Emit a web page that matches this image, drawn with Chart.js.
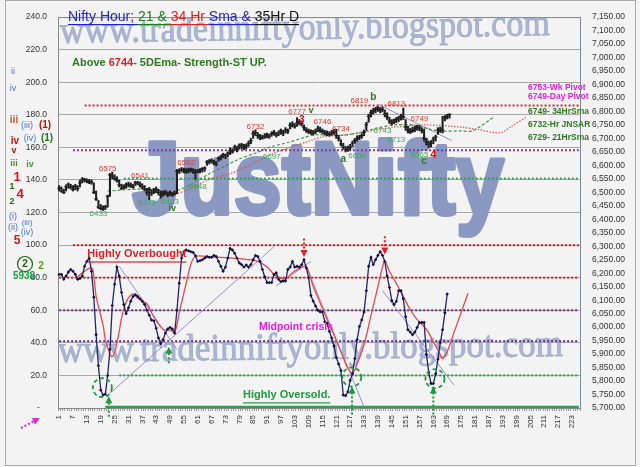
<!DOCTYPE html>
<html>
<head>
<meta charset="utf-8">
<title>Nifty Hour</title>
<script src="https://cdn.jsdelivr.net/npm/chart.js@4.4.1/dist/chart.umd.min.js"></script>
<style>
  html, body { margin: 0; padding: 0; background: #f3f3f3; }
  #wrap { width: 640px; height: 467px; }
</style>
</head>
<body>
<div id="wrap"><canvas id="chart" width="640" height="467"></canvas></div>
<script>
// ---- hourly bars ----
const candleLows = [
  6505,6500,6495,6505,6515,6512,6505,6510,6505,6520,
  6535,6538,6535,6532,6530,6495,6470,6440,6435,6433,
  6436,6445,6485,6550,6545,6538,6520,6510,6512,6515,
  6520,6518,6515,6525,6528,6520,6512,6505,6490,6473,
  6488,6495,6498,6490,6478,6485,6490,6483,6488,6485,
  6490,6495,6570,6575,6572,6570,6572,6575,6570,6548,
  6572,6572,6575,6578,6600,6605,6608,6602,6598,6615,
  6620,6628,6625,6632,6640,6645,6655,6650,6660,6662,
  6658,6662,6670,6680,6700,6710,6700,6695,6697,6700,
  6702,6700,6708,6712,6705,6710,6715,6710,6720,6718,
  6735,6742,6738,6745,6750,6745,6730,6722,6718,6715,
  6712,6718,6725,6722,6718,6712,6710,6708,6712,6715,
  6700,6690,6672,6660,6650,6652,6658,6670,6682,6690,
  6695,6700,6710,6730,6760,6780,6790,6795,6800,6795,
  6798,6780,6770,6755,6750,6755,6758,6762,6768,6770,
  6730,6720,6718,6722,6725,6730,6728,6720,6690,6675,
  6665,6668,6680,6690,6715,6722,6720,6765,6772,6775
];
const candleHighs = [
  6525,6520,6512,6528,6535,6530,6525,6530,6525,6545,
  6555,6552,6550,6548,6546,6535,6505,6470,6455,6450,
  6452,6490,6570,6575,6565,6558,6545,6530,6528,6535,
  6538,6535,6530,6541,6541,6538,6532,6525,6515,6518,
  6510,6515,6520,6512,6505,6505,6508,6502,6505,6500,
  6505,6585,6588,6592,6590,6588,6590,6590,6588,6585,
  6585,6588,6592,6595,6618,6622,6625,6620,6615,6632,
  6638,6645,6642,6650,6665,6662,6675,6670,6680,6682,
  6678,6680,6690,6700,6728,6732,6722,6715,6712,6718,
  6720,6716,6725,6730,6722,6728,6735,6730,6740,6735,
  6758,6762,6755,6777,6770,6765,6750,6740,6735,6732,
  6730,6735,6746,6742,6735,6730,6728,6725,6730,6734,
  6734,6712,6695,6682,6670,6672,6678,6690,6700,6710,
  6712,6718,6730,6760,6790,6805,6812,6815,6819,6815,
  6816,6805,6795,6778,6770,6772,6778,6782,6790,6813,
  6770,6745,6738,6742,6745,6749,6748,6740,6735,6700,
  6690,6692,6705,6712,6740,6742,6782,6785,6790,6792
];
const candleCloses = [
  6515,6505,6500,6520,6530,6520,6510,6522,6515,6535,
  6548,6545,6542,6540,6538,6500,6475,6445,6440,6438,
  6445,6485,6565,6560,6552,6545,6528,6515,6520,6528,
  6530,6525,6520,6535,6535,6528,6520,6512,6500,6510,
  6498,6505,6510,6500,6490,6495,6500,6492,6498,6490,
  6495,6578,6580,6585,6582,6578,6582,6585,6580,6575,
  6578,6582,6588,6590,6612,6615,6618,6610,6605,6625,
  6630,6640,6635,6645,6655,6650,6668,6660,6672,6675,
  6668,6672,6682,6692,6718,6722,6710,6705,6702,6708,
  6712,6708,6718,6722,6712,6720,6728,6720,6732,6728,
  6748,6752,6745,6758,6762,6755,6740,6730,6725,6722,
  6720,6725,6735,6730,6725,6720,6718,6715,6720,6725,
  6710,6700,6680,6668,6658,6660,6668,6682,6692,6700,
  6705,6710,6722,6750,6782,6795,6802,6808,6810,6805,
  6808,6790,6780,6765,6758,6765,6770,6775,6782,6780,
  6742,6730,6725,6730,6735,6740,6738,6730,6700,6685,
  6678,6682,6695,6705,6730,6735,6730,6778,6782,6788
];

// ---- oscillator (left axis, 0-100) ----
const oscillator = [
  82,82,79,81,83.5,85,84,82,79,79.5,
  81,87,90,92,84,68,45,26,11,8,
  8.5,20,36,63,76,86.5,81,71,63.5,58,
  61.5,65.5,68.5,69.5,68.5,67,65.5,63.5,60,57,
  54,53.5,49,43,39.5,42,46,48.5,49.5,48.5,
  46,60,76.6,92,96,97,96.5,96,95.5,93.5,
  90,90.5,91,92,93,92.5,92.5,93.7,93,90,
  87,84,86.5,92,98,97,95,92,89,88,
  86.5,87.8,86.5,88,91,93.7,93,90,85,80.6,
  77,77,77,82,83,79,77.6,78,78,85,
  86.5,90,86.5,87,86.5,88,91,86,80,69,
  65.6,62.7,60,59,59,53,52,47,43,38,
  31,27,23,8,7.5,10,17,21,30.4,42,
  50,54,59,72,87,92.5,88,91,93.7,96,
  93.7,90,81,74,66,63.5,65.5,72,72,67,
  56,48,46.6,45,46.6,49.5,52.5,52.5,52.5,33,
  22,15,15,21,30,40,48,58.5,70
];
const oscAvgCats = [9,12,15,16,17,20,21,23,24,25,26,27,28,30,33,35,37,39,41,43,
  46,49,51,53,56,58,60,65,71,76,82,87,91,95,99,102,106,108,111,114,
  117,120,123,126,128,130,133,136,139,141,142,144,147,150,153,156,160,163,166,167,
  169,172,175,178];
const oscAvg = [80.6,84,86,81,68.6,51,42,33,31.5,34,40,47,55,65,70,67.5,65.6,64,58.5,53.7,
  48.4,47.8,46.6,58.5,76.6,88,93,93,92.5,92,91.3,90,86.5,81,79.4,83,86.5,87,74.6,64.5,
  54.3,44.8,34.6,24.5,21.5,27,39,56.7,74.6,86.5,90,84,76.4,68.6,60.3,54.3,48.4,40.6,32.8,30.4,
  34.6,46.6,58.5,70.4];

// ---- moving averages (right axis) ----
const sma21Cats = [22,40,49,58,66,72,78,87,92,100,107,111,117,123,131,139,146,154,165,175,180,189];
const sma21 = [6505,6513,6500,6529,6569,6594,6620,6649,6667,6685,6703,6713,6713,6711,6721,6739,6750,6750,6728,6728,6728,6778];
const sma34Cats = [40,49,58,66,75,84,92,101,110,115,124,131,146,160,175,183,192,197,203];
const sma34 = [6515,6490,6515,6548,6569,6602,6638,6667,6692,6706,6712,6721,6742,6750,6742,6732,6721,6746,6778];

// ---- horizontal levels and trend lines ----
const priceLevels = [6822, 6656, 6551];
const priceLevelFrom = [12, 7, 29];
const oscLevels = [100, 80, 60, 41, 20, 0.6];
const oscLevelFrom = [7, 1, 1, 1, 27, 21];
const oscTrends = [[23, 9, 94, 99], [27, 87, 52, 36], [95, 75, 110, 90], [108, 87, 133, 0.6], [141, 72, 172, 14]];
const priceTrends = [[128, 6659, 139, 6827], [139, 6827, 171, 6692]];

const labels = Array.from({ length: 226 }, (_, i) => String(i + 1));

const RED = '#e8352e', GRN = '#3aa85c', DKG = '#2d7a1c', BLUE = '#4a72c0', MAG = '#e020e0';
const SANS = '"Liberation Sans", Arial, sans-serif';

const pts = (cats, vals) => cats.map((c, i) => ({ x: String(c), y: vals[i] }));
const seg = (t) => [{ x: String(t[0]), y: t[1] }, { x: String(t[2]), y: t[3] }];

const datasets = [];
const priceLevelColors = ['#d02a2a', '#7a3aa8', '#2aa050'];
priceLevels.forEach((v, i) => datasets.push({
  type: 'line', data: [{ x: String(priceLevelFrom[i]), y: v }, { x: '226', y: v }], yAxisID: 'y2',
  borderColor: priceLevelColors[i], borderWidth: 2, borderDash: [2, 2], pointRadius: 0, order: 6
}));
const oscLevelColors = ['#c82828', '#c82828', '#6a2a90', '#6a2a90', '#2aa050', '#2aa050'];
oscLevels.forEach((v, i) => datasets.push({
  type: 'line', data: [{ x: String(oscLevelFrom[i]), y: v }, { x: '226', y: v }], yAxisID: 'y',
  borderColor: oscLevelColors[i], borderWidth: i === 5 ? 2.5 : 2, borderDash: i === 5 ? [] : [2, 2], pointRadius: 0, order: 6
}));
oscTrends.forEach(t => datasets.push({
  type: 'line', data: seg(t), yAxisID: 'y', borderColor: 'rgba(150,128,200,0.9)', borderWidth: 1, pointRadius: 0, order: 5
}));
priceTrends.forEach(t => datasets.push({
  type: 'line', data: seg(t), yAxisID: 'y2', borderColor: 'rgba(150,128,200,0.9)', borderWidth: 1, pointRadius: 0, order: 5
}));
datasets.push({
  type: 'line', data: pts(sma21Cats, sma21), yAxisID: 'y2', borderColor: '#3c9a3c', borderWidth: 1.2,
  borderDash: [3, 2], pointRadius: 0, tension: 0.3, order: 4
});
datasets.push({
  type: 'line', data: pts(sma34Cats, sma34), yAxisID: 'y2', borderColor: '#e0504a', borderWidth: 1.2,
  borderDash: [1.5, 1.5], pointRadius: 0, tension: 0.3, order: 4
});
datasets.push({
  type: 'line', data: pts(oscAvgCats, oscAvg), yAxisID: 'y', borderColor: '#e8484c', borderWidth: 1.3,
  pointRadius: 0, tension: 0.4, order: 3
});
datasets.push({
  type: 'line', data: oscillator, yAxisID: 'y', borderColor: '#23236e', borderWidth: 1.3,
  pointStyle: 'rectRot', pointRadius: 1.7, pointBackgroundColor: '#101040', pointBorderWidth: 0, order: 2
});
datasets.push({
  type: 'bar', data: candleLows.map((l, i) => [l, candleHighs[i]]), yAxisID: 'y2',
  backgroundColor: '#1e1e1e', barThickness: 1.4, order: 1
});
datasets.push({
  type: 'line', data: candleCloses, yAxisID: 'y2', showLine: false, pointStyle: 'line',
  pointRadius: 1.8, pointBorderWidth: 1.2, pointBorderColor: '#1e1e1e', order: 1
});

// text helpers
function stretchText(ctx, s, x, y, w, font, color, angle, thick) {
  ctx.save();
  ctx.font = font;
  const m = ctx.measureText(s).width;
  ctx.translate(x, y);
  ctx.rotate(angle);
  ctx.scale(w / m, 1);
  ctx.fillStyle = color;
  ctx.textAlign = 'left';
  ctx.textBaseline = 'alphabetic';
  ctx.fillText(s, 0, 0);
  if (thick) {
    ctx.strokeStyle = color;
    ctx.lineWidth = thick;
    ctx.lineJoin = 'round';
    ctx.strokeText(s, 0, 0);
  }
  ctx.restore();
}
function put(ctx, s, x, y, color, font, align) {
  ctx.font = font + ' ' + SANS;
  ctx.fillStyle = color;
  ctx.textAlign = align || 'center';
  ctx.textBaseline = 'middle';
  ctx.fillText(s, x, y);
}
function runs(ctx, parts, x, y, font, underline) {
  ctx.font = font + ' ' + SANS;
  ctx.textAlign = 'left';
  ctx.textBaseline = 'middle';
  parts.forEach(([s, c]) => {
    const w = ctx.measureText(s).width;
    ctx.fillStyle = c;
    ctx.fillText(s, x, y);
    if (underline) { ctx.fillRect(x, y + underline, w, 1.2); }
    x += w;
  });
}
function dotArrow(ctx, x1, y1, x2, y2, color) {
  ctx.save();
  ctx.strokeStyle = color; ctx.fillStyle = color; ctx.lineWidth = 2;
  ctx.setLineDash([2, 2]);
  ctx.beginPath(); ctx.moveTo(x1, y1); ctx.lineTo(x2, y2); ctx.stroke();
  ctx.setLineDash([]);
  const a = Math.atan2(y2 - y1, x2 - x1);
  ctx.beginPath();
  ctx.moveTo(x2 + 2 * Math.cos(a), y2 + 2 * Math.sin(a));
  ctx.lineTo(x2 - 5 * Math.cos(a) + 3.5 * Math.sin(a), y2 - 5 * Math.sin(a) - 3.5 * Math.cos(a));
  ctx.lineTo(x2 - 5 * Math.cos(a) - 3.5 * Math.sin(a), y2 - 5 * Math.sin(a) + 3.5 * Math.cos(a));
  ctx.closePath(); ctx.fill();
  ctx.restore();
}

const priceNotes = [
  ['6575', 22, 6587, RED], ['6541', 36, 6562, RED], ['6592', 56, 6609, RED], ['6732', 86, 6742, RED],
  ['6777', 104, 6797, RED], ['6746', 115, 6760, RED], ['6734', 123, 6735, RED], ['6819', 131, 6840, RED],
  ['6813', 147, 6829, RED], ['6749', 157, 6771, RED],
  ['6433', 18, 6421, GRN], ['6473', 39, 6461, GRN], ['6483', 49, 6465, GRN], ['6548', 61, 6519, GRN],
  ['6697', 93, 6631, GRN], ['6650', 130, 6634, GRN], ['6743', 141, 6728, GRN], ['6713', 147, 6695, GRN],
  ['6665', 157, 6641, GRN]
];
const waveNotes = [
  ['iv', 50, 6439, DKG, 'bold 9px'], ['v', 110, 6804, DKG, 'bold 9px'], ['a', 124, 6623, DKG, 'bold 10px'],
  ['b', 137, 6854, DKG, 'bold 10px'], ['c', 159, 6616, DKG, 'bold 10px'],
  ['3', 106, 6768, '#e01010', 'bold 10px'], ['4', 163, 6638, '#e01010', 'bold 11px']
];
const pivotNotes = [
  ['6753-Wk Pivot', 6890, MAG], ['6749-Day Pivot', 6854, MAG], ['6749- 34HrSma', 6800, DKG],
  ['6732-Hr JNSAR', 6750, DKG], ['6729- 21HrSma', 6703, DKG]
];
const sideMarks = [
  ['ii', 13, 206.6, BLUE, '9px'], ['iv', 13, 196.4, BLUE, '9px'],
  ['iii', 14, 176.7, '#e04a1a', 'bold 10px'], ['(iii)', 27, 173.7, BLUE, '9px'], ['(1)', 45, 173.7, '#c01010', 'bold 10px'],
  ['iv', 15, 164, '#c01010', 'bold 10px'], ['(iv)', 30, 165.4, BLUE, '9px'], ['(1)', 47, 165.9, '#1d7a10', 'bold 10px'],
  ['v', 14, 158.2, '#c01010', 'bold 9px'],
  ['iii', 14, 149.9, '#3d9a2a', 'bold 9px'], ['iv', 30, 149.3, '#3d9a2a', 'bold 9px'],
  ['1', 17, 141.5, '#e01010', 'bold 13px'],
  ['1', 12, 136, '#1d6a10', 'bold 9px'], ['4', 20, 131.3, '#e01010', 'bold 13px'],
  ['2', 12, 127, '#1d6a10', 'bold 9px'],
  ['(i)', 13, 117.6, BLUE, '9px'], ['(ii)', 13, 111, BLUE, '9px'], ['(iii)', 27, 113.5, BLUE, '8px'],
  ['(iv)', 27, 107.5, BLUE, '9px'],
  ['5', 17, 103, '#e01010', 'bold 12px'],
  ['2', 25, 88.4, '#1d6a10', 'bold 10px'], ['2', 41, 87.2, '#5a9a10', 'bold 10px'],
  ['5938', 24, 80.6, '#10a040', 'bold 10px']
];

const overlay = {
  id: 'overlay',
  beforeDraw(chart) {
    const { ctx, width, height } = chart;
    ctx.save();
    ctx.fillStyle = '#f3f3f3';
    ctx.fillRect(0, 0, width, height);
    ctx.strokeStyle = '#a8a8a8';
    ctx.lineWidth = 1;
    ctx.strokeRect(5.5, 0.5, width - 10, height - 2);
    ctx.restore();
  },
  beforeDatasetsDraw(chart) {
    const { ctx, chartArea: a } = chart;
    ctx.save();
    ctx.beginPath();
    ctx.rect(a.left, a.top, a.right - a.left, a.bottom - a.top);
    ctx.clip();
    const serif = '38px "Liberation Serif", "Times New Roman", serif';
    const wm = 'rgba(158,170,202,0.85)';
    stretchText(ctx, 'www.tradeinniftyonly.blogspot.com', a.left + 2, 43, 490, serif, wm, -0.016, 1);
    stretchText(ctx, 'JustNifty', a.left + 74, 214, 372, 'bold 104px ' + SANS, 'rgb(138,152,194)', 0, 4);
    stretchText(ctx, 'www.tradeinniftyonly.blogspot.com', a.left, 362, 505, serif, wm, -0.012, 1);
    ctx.restore();
  },
  afterDatasetsDraw(chart) {
    const { ctx, chartArea: a, scales } = chart;
    const X = c => scales.x.getPixelForValue(c - 1);
    const P = v => scales.y2.getPixelForValue(v);
    const O = v => scales.y.getPixelForValue(v);
    ctx.save();
    // plot frame
    ctx.strokeStyle = '#7d8aa6';
    ctx.lineWidth = 1;
    ctx.beginPath();
    ctx.moveTo(a.left, a.top + 0.5); ctx.lineTo(a.right + 0.5, a.top + 0.5); ctx.lineTo(a.right + 0.5, a.bottom);
    ctx.stroke();

    // title
    runs(ctx, [['Nifty Hour; ', '#1f1fcc'], ['21 & ', '#1e7b1e'], ['34 Hr ', '#e02020'], ['Sma & ', '#1f1fcc'], ['35Hr D', '#111']],
      a.left + 10, 17, '14px', 7);
    runs(ctx, [['Above ', DKG], ['6744', '#e02020'], ['- 5DEma- Strength-ST UP.', DKG]], a.left + 14, 63, 'bold 11px');

    // price labels
    priceNotes.forEach(([s, c, v, col]) => put(ctx, s, X(c), P(v), col, '8px'));
    waveNotes.forEach(([s, c, v, col, f]) => put(ctx, s, X(c), P(v), col, f));
    pivotNotes.forEach(([s, v, col]) => put(ctx, s, X(204), P(v), col, 'bold 8.5px', 'left'));

    // oscillator panel notes
    runs(ctx, [['Highly Overbought', '#e02020']], X(13.2), O(94.3), 'bold 11px', 7);
    runs(ctx, [['Midpoint crisis', MAG]], X(87.5), O(49.5), 'bold 10.5px');
    runs(ctx, [['Highly Oversold.', '#1e9a3a']], X(80.6), O(7.8), 'bold 11px', 7);

    // circles
    ctx.strokeStyle = '#1e9a3a';
    ctx.lineWidth = 1.8;
    ctx.setLineDash([4, 3]);
    [[19.7, 12.5], [127.7, 19], [163.7, 18]].forEach(([c, v]) => {
      ctx.beginPath(); ctx.arc(X(c), O(v), 9.5, 0, Math.PI * 2); ctx.stroke();
    });
    ctx.setLineDash([]);

    // arrows
    [[22.5, -5.4, 6], [48.5, 27.5, 36.4], [127.8, -4, 12], [163, -4, 12]].forEach(([c, v1, v2]) =>
      dotArrow(ctx, X(c), O(v1), X(c), O(v2), '#1e9a3a'));
    [[107, 104, 94], [142, 105.5, 95.5]].forEach(([c, v1, v2]) =>
      dotArrow(ctx, X(c), O(v1), X(c), O(v2), '#e02020'));
    dotArrow(ctx, 21, 428, 38, 419, MAG);

    // wave counts on the left margin
    sideMarks.forEach(([s, x, v, col, f]) => put(ctx, s, x, O(v), col, f));
    ctx.strokeStyle = '#1d6a10';
    ctx.lineWidth = 1.2;
    ctx.beginPath(); ctx.arc(25, O(88.4), 7.5, 0, Math.PI * 2); ctx.stroke();
    ctx.restore();
  }
};

new Chart(document.getElementById('chart'), {
  type: 'bar',
  data: { labels, datasets },
  options: {
    responsive: false,
    animation: false,
    devicePixelRatio: 1,
    layout: { padding: { top: 6, left: 0, right: 0, bottom: 0 } },
    plugins: { legend: { display: false }, tooltip: { enabled: false } },
    scales: {
      x: {
        offset: true,
        grid: { display: true, drawOnChartArea: false, drawTicks: true, tickLength: 3, color: '#9a9a9a' },
        border: { display: true, color: '#888' },
        ticks: {
          autoSkip: false, maxRotation: 90, minRotation: 90, padding: 4,
          font: { size: 8, family: SANS }, color: '#333',
          callback: (v, i) => (i % 6 === 0 ? labels[i] : '')
        },
        afterFit: s => { s.height = 59; }
      },
      y: {
        position: 'left', min: 0, max: 240,
        grid: { color: '#a8a8a8', drawTicks: false },
        border: { display: true, color: '#888' },
        ticks: {
          stepSize: 20, autoSkip: false, padding: 11, color: '#333',
          font: { size: 8.5, family: SANS },
          callback: v => (v === 0 ? '-   ' : v.toFixed(1))
        },
        afterFit: s => { s.width = 58; }
      },
      y2: {
        position: 'right', min: 5700, max: 7150,
        grid: { display: false, drawTicks: false },
        border: { display: true, color: '#6b7b99' },
        ticks: {
          stepSize: 50, autoSkip: false, padding: 12, color: '#333',
          font: { size: 8.5, family: SANS },
          callback: v => v.toLocaleString('en-US', { minimumFractionDigits: 2, maximumFractionDigits: 2 })
        },
        afterFit: s => { s.width = 60; }
      }
    }
  },
  plugins: [overlay]
});
</script>
</body>
</html>
